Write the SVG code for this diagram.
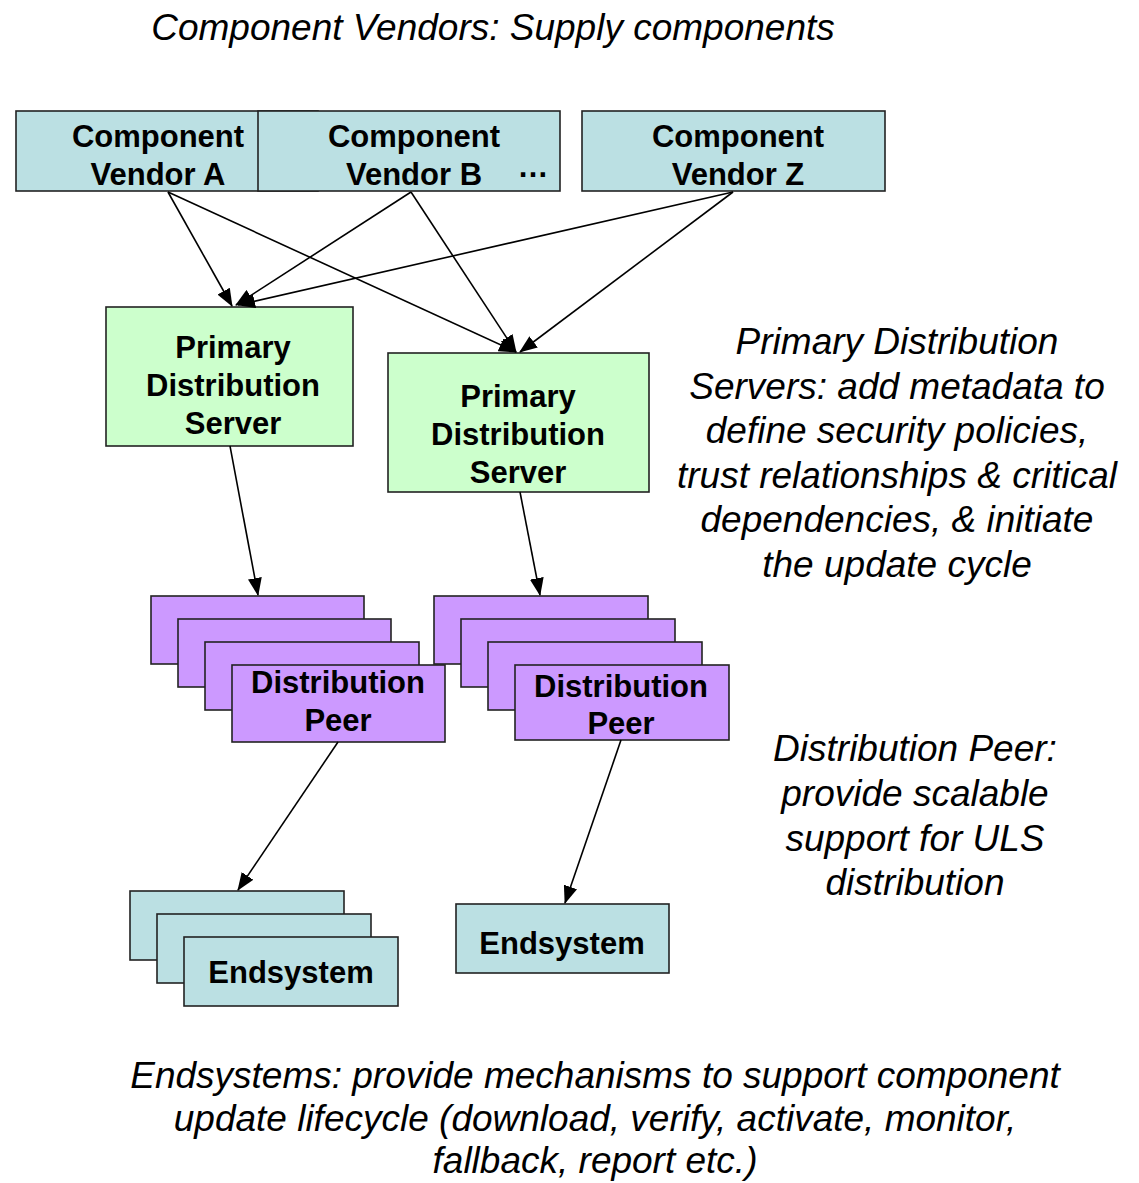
<svg xmlns="http://www.w3.org/2000/svg" width="1139" height="1183" viewBox="0 0 1139 1183">
<style>
.box{stroke:#222;stroke-width:1.6}
.vend{fill:#BBE0E3}
.pds{fill:#CCFFCC}
.peer{fill:#CC99FF}
.end{fill:#BBE0E3}
.lbl{font-family:"Liberation Sans",Arial,sans-serif;font-weight:bold;font-size:31px;fill:#000;text-anchor:middle}
.note{font-family:"Liberation Sans",Arial,sans-serif;font-style:italic;font-size:37px;fill:#000;text-anchor:middle}
.conn{stroke:#000;stroke-width:1.6;fill:none;marker-end:url(#arr)}
</style>
<defs>
<marker id="arr" markerUnits="userSpaceOnUse" markerWidth="18" markerHeight="14" viewBox="0 0 18 14" refX="17" refY="7" orient="auto">
<path d="M0,0 L18,7 L0,14 Z" fill="#000"/>
</marker>
</defs>
<rect width="1139" height="1183" fill="#fff"/>

<text class="note" x="493" y="40">Component Vendors: Supply components</text>

<g id="vendorA">
<rect class="box vend" x="16" y="111" width="302" height="80"/>
<text class="lbl" x="158" y="147">Component</text>
<text class="lbl" x="158" y="185">Vendor A</text>
</g>
<g id="vendorB">
<rect class="box vend" x="258" y="111" width="302" height="80"/>
<text class="lbl" x="414" y="147">Component</text>
<text class="lbl" x="414" y="185">Vendor B</text>
<text class="lbl" x="533" y="177">…</text>
</g>
<g id="vendorZ">
<rect class="box vend" x="582" y="111" width="303" height="80"/>
<text class="lbl" x="738" y="147">Component</text>
<text class="lbl" x="738" y="185">Vendor Z</text>
</g>

<g id="pds1">
<rect class="box pds" x="106" y="307" width="247" height="139"/>
<text class="lbl" x="233" y="358">Primary</text>
<text class="lbl" x="233" y="396">Distribution</text>
<text class="lbl" x="233" y="434">Server</text>
</g>
<g id="pds2">
<rect class="box pds" x="388" y="353" width="261" height="139"/>
<text class="lbl" x="518" y="407">Primary</text>
<text class="lbl" x="518" y="445">Distribution</text>
<text class="lbl" x="518" y="483">Server</text>
</g>

<g id="peers1">
<rect class="box peer" x="151" y="596" width="213" height="68"/>
<rect class="box peer" x="178" y="619" width="213" height="68"/>
<rect class="box peer" x="205" y="642" width="214" height="68"/>
<rect class="box peer" x="232" y="665" width="213" height="77"/>
<text class="lbl" x="338" y="693">Distribution</text>
<text class="lbl" x="338" y="731">Peer</text>
</g>
<g id="peers2">
<rect class="box peer" x="434" y="596" width="214" height="68"/>
<rect class="box peer" x="461" y="619" width="214" height="68"/>
<rect class="box peer" x="488" y="642" width="214" height="68"/>
<rect class="box peer" x="515" y="665" width="214" height="75"/>
<text class="lbl" x="621" y="697">Distribution</text>
<text class="lbl" x="621" y="734">Peer</text>
</g>

<g id="ends1">
<rect class="box end" x="130" y="891" width="214" height="69"/>
<rect class="box end" x="157" y="914" width="214" height="69"/>
<rect class="box end" x="184" y="937" width="214" height="69"/>
<text class="lbl" x="291" y="983">Endsystem</text>
</g>
<g id="ends2">
<rect class="box end" x="456" y="904" width="213" height="69"/>
<text class="lbl" x="562" y="954">Endsystem</text>
</g>

<g id="connectors">
<line class="conn" x1="168" y1="192" x2="232" y2="306"/>
<line class="conn" x1="168" y1="192" x2="516" y2="352"/>
<line class="conn" x1="411" y1="192" x2="236" y2="305"/>
<line class="conn" x1="411" y1="192" x2="516" y2="352"/>
<line class="conn" x1="733" y1="192" x2="238" y2="305"/>
<line class="conn" x1="733" y1="192" x2="520" y2="352"/>
<line class="conn" x1="230" y1="446" x2="258" y2="595"/>
<line class="conn" x1="520" y1="492" x2="540" y2="595"/>
<line class="conn" x1="338" y1="742" x2="238" y2="890"/>
<line class="conn" x1="621" y1="740" x2="565" y2="903"/>
</g>

<g id="notes">
<text class="note" x="897" y="354">Primary Distribution</text>
<text class="note" x="897" y="399">Servers: add metadata to</text>
<text class="note" x="897" y="443">define security policies,</text>
<text class="note" x="897" y="488">trust relationships &amp; critical</text>
<text class="note" x="897" y="532">dependencies, &amp; initiate</text>
<text class="note" x="897" y="577">the update cycle</text>
<text class="note" x="915" y="761">Distribution Peer:</text>
<text class="note" x="915" y="806">provide scalable</text>
<text class="note" x="915" y="851">support for ULS</text>
<text class="note" x="915" y="895">distribution</text>
<text class="note" x="595" y="1088">Endsystems: provide mechanisms to support component</text>
<text class="note" x="595" y="1131">update lifecycle (download, verify, activate, monitor,</text>
<text class="note" x="595" y="1173">fallback, report etc.)</text>
</g>
</svg>
